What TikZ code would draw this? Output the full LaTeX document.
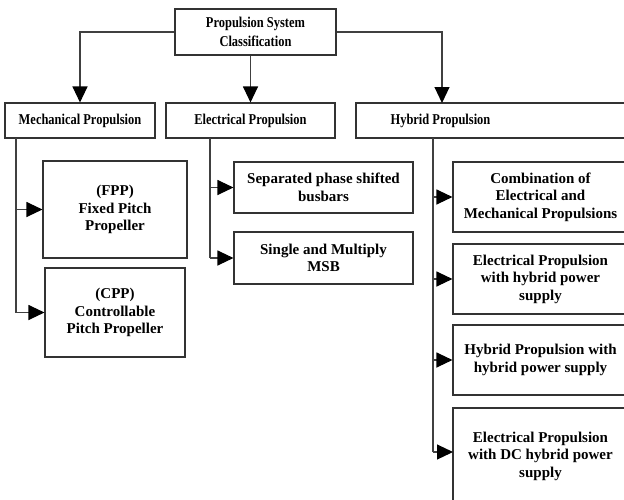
\documentclass[tikz,border=0pt]{standalone}
\usepackage{fontspec}
\setmainfont{Liberation Serif}
\newfontfamily\hdfont[FakeStretch=0.83]{Liberation Serif Bold}
\usetikzlibrary{arrows.meta}
\begin{document}
\begin{tikzpicture}[x=1pt,y=-1pt,
  box/.style={draw=black!80, line width=1.1pt, rectangle, inner sep=0pt, align=center,
    font=\fontsize{15}{17.5}\selectfont\bfseries},
  hd/.style={box, font=\fontsize{15}{18.5}\selectfont\hdfont},
  hdtext/.style={inner sep=0pt, align=center, font=\fontsize{15}{18.5}\selectfont\hdfont},
  conn/.style={draw=black!75, line width=1.1pt},
  arr/.style={conn, -{Triangle[length=16pt,width=15pt,color=black]}}]
\useasboundingbox (0,0) rectangle (624,499);
\clip (0,0) rectangle (624,499);

% top level
\node[hd, minimum width=161pt, minimum height=46pt] (top) at (255.5,32) {Propulsion System\\Classification};

% second level
\node[hd, minimum width=150pt, minimum height=35pt] (mech) at (80,120.5) {Mechanical Propulsion};
\node[hd, minimum width=169pt, minimum height=35pt] (elec) at (250.5,120.5) {Electrical Propulsion};
\node[hd, minimum width=274pt, minimum height=35pt] (hyb) at (493,120.5) {};
\node[hdtext] (hybt) at (440.5,120.5) {Hybrid Propulsion};

% mechanical children
\node[box, minimum width=144pt, minimum height=97pt] (fpp) at (115,209.5) {(FPP)\\Fixed Pitch\\Propeller};
\node[box, minimum width=140pt, minimum height=89pt] (cpp) at (115,312.5) {(CPP)\\Controllable\\Pitch Propeller};

% electrical children
\node[box, minimum width=179pt, minimum height=51pt] (sep) at (323.5,187.5) {Separated phase shifted\\busbars};
\node[box, minimum width=179pt, minimum height=52pt] (sgl) at (323.5,258) {Single and Multiply\\MSB};

% hybrid children
\node[box, minimum width=175pt, minimum height=70pt] (c1) at (540.5,197) {Combination of\\Electrical and\\Mechanical Propulsions};
\node[box, minimum width=175pt, minimum height=70pt] (c2) at (540.5,279) {Electrical Propulsion\\with hybrid power\\supply};
\node[box, minimum width=175pt, minimum height=70pt] (c3) at (540.5,360) {Hybrid Propulsion with\\hybrid power supply};
\node[box, minimum width=175pt, minimum height=96pt] (c4) at (540.5,456) {Electrical Propulsion\\with DC hybrid power\\supply};

% top arrows
\coordinate (hybin) at (442,103);
\draw[arr] (top.west) -| (mech.north);
\draw[arr] (top.south -| elec.north) -- (elec.north);
\draw[arr] (top.east) -| (hybin);

% spines
\coordinate (ms) at (16,138);
\coordinate (es) at (210,138);
\coordinate (hs) at (433,138);
\coordinate (c4in) at (453,452);

\draw[conn] (ms) -- (ms |- cpp.west);
\draw[arr] (ms |- fpp.west) -- (fpp.west);
\draw[arr] (ms |- cpp.west) -- (cpp.west);

\draw[conn] (es) -- (es |- sgl.west);
\draw[arr] (es |- sep.west) -- (sep.west);
\draw[arr] (es |- sgl.west) -- (sgl.west);

\draw[conn] (hs) -- (hs |- c4in);
\draw[arr] (hs |- c1.west) -- (c1.west);
\draw[arr] (hs |- c2.west) -- (c2.west);
\draw[arr] (hs |- c3.west) -- (c3.west);
\draw[arr] (hs |- c4in) -- (c4in);
\end{tikzpicture}
\end{document}
